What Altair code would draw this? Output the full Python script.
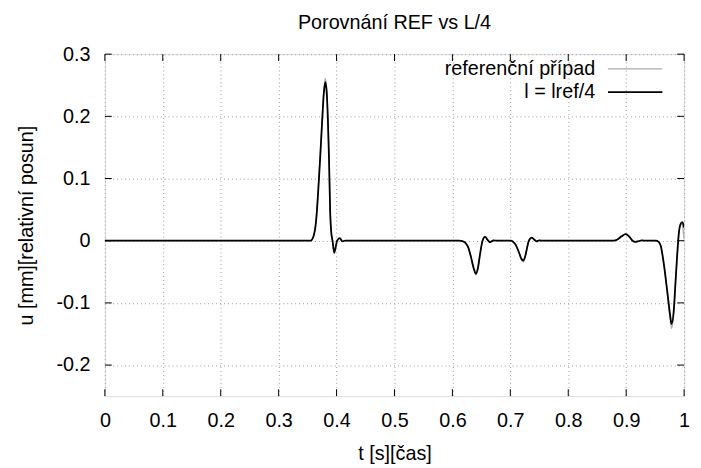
import altair as alt
import pandas as pd

# ---- data ----
t = [0.000, 0.340, 0.355, 0.3605, 0.365, 0.368, 0.3715, 0.375, 0.378, 0.3805,
     0.383, 0.385, 0.387, 0.389, 0.391, 0.393, 0.396, 0.3985, 0.401, 0.4056,
     0.410, 0.415, 0.612, 0.617, 0.622, 0.627, 0.632, 0.637, 0.6405, 0.644,
     0.648, 0.652, 0.6565, 0.661, 0.665, 0.671, 0.678, 0.700, 0.705, 0.710,
     0.715, 0.719, 0.7225, 0.726, 0.729, 0.732, 0.737, 0.741, 0.745, 0.750,
     0.756, 0.878, 0.885, 0.892, 0.899, 0.905, 0.911, 0.916, 0.922, 0.927,
     0.935, 0.951, 0.956, 0.9596, 0.9654, 0.971, 0.9766, 0.9783, 0.9824, 0.9852,
     0.988, 0.991, 0.9935, 0.9966, 0.9985, 1.000]

u_l4 = [0, 0, 0, 0.008, 0.035, 0.075, 0.13, 0.19, 0.237, 0.255,
        0.238, 0.195, 0.13, 0.045, 0.012, 0.0, -0.019, -0.01, 0.0, 0.004,
        -0.001, 0, 0, -0.0005, -0.003, -0.01, -0.026, -0.045, -0.053, -0.044,
        -0.02, 0.0, 0.006, 0.001, -0.0025, 0.0005, 0, 0, -0.002, -0.008,
        -0.019, -0.029, -0.032, -0.024, -0.011, 0.0, 0.005, 0.002, -0.001, 0.0005,
        0, 0, 0.002, 0.007, 0.0105, 0.007, 0.0, -0.002, -0.0005, 0.0005,
        0, 0, -0.002, -0.008, -0.04, -0.082, -0.125, -0.134, -0.109, -0.066,
        -0.024, 0.013, 0.026, 0.03, 0.027, 0.021]

u_ref = [0, 0, 0, 0.008, 0.036, 0.077, 0.133, 0.194, 0.242, 0.261,
         0.244, 0.2, 0.134, 0.046, 0.012, 0.0, -0.021, -0.011, 0.0, 0.004,
         -0.001, 0, 0, -0.0005, -0.003, -0.01, -0.027, -0.047, -0.055, -0.046,
         -0.021, 0.0, 0.007, 0.001, -0.0025, 0.0005, 0, 0, -0.002, -0.008,
         -0.02, -0.03, -0.034, -0.025, -0.011, 0.0, 0.005, 0.002, -0.001, 0.0005,
         0, 0, 0.002, 0.007, 0.011, 0.007, 0.0, -0.002, -0.0005, 0.0005,
         0, 0, -0.002, -0.008, -0.041, -0.085, -0.131, -0.141, -0.114, -0.068,
         -0.025, 0.012, 0.024, 0.027, 0.015, 0.002]

x_ticks = [0, 0.1, 0.2, 0.3, 0.4, 0.5, 0.6, 0.7, 0.8, 0.9, 1.0]
y_ticks = [-0.2, -0.1, 0, 0.1, 0.2, 0.3]
series = ["referenční případ", "l = lref/4"]
colors = ["#ababab", "#000000"]

title_text = "Porovnání REF vs L/4"
x_title = "t [s][čas]"
y_title = "u [mm][relativní posun]"

# ---- layout ----
W, H = 586, 346
FONT = "Liberation Sans"
FS = 20

df = pd.DataFrame({"t": t, "ref": u_ref, "l4": u_l4})
xt_df = pd.DataFrame({"v": x_ticks})
yt_df = pd.DataFrame({"v": y_ticks})

xscale = alt.Scale(domain=[0, 1], nice=False, zero=False)
yscale = alt.Scale(domain=[-0.25, 0.3], nice=False, zero=False)

xaxis = alt.Axis(values=x_ticks, grid=True, gridDash=[1, 3], gridColor="#9a9a9a",
                 domain=False, ticks=False, labelPadding=15,
                 labelExpr="toString(round(datum.value*10)/10)",
                 labelFont=FONT, labelFontSize=FS, labelColor="#000",
                 titleFont=FONT, titleFontSize=FS, titleFontWeight="normal",
                 titleColor="#000", titlePadding=13, labelFlush=False)
yaxis = alt.Axis(values=y_ticks, grid=True, gridDash=[1, 3], gridColor="#9a9a9a",
                 domain=False, ticks=False, labelPadding=15,
                 labelExpr="toString(round(datum.value*10)/10)",
                 labelFont=FONT, labelFontSize=FS, labelColor="#000",
                 titleFont=FONT, titleFontSize=FS, titleFontWeight="normal",
                 titleColor="#000", titlePadding=20, labelFlush=False)


def X(field):
    return alt.X(field, type="quantitative", scale=xscale, axis=xaxis, title=x_title)


def Y(field):
    return alt.Y(field, type="quantitative", scale=yscale, axis=yaxis, title=y_title)


line_ref = alt.Chart(df).mark_line(color=colors[0], strokeWidth=1.3,
                                   interpolate="monotone", clip=True).encode(
    x=X("t"), y=Y("ref"))
line_l4 = alt.Chart(df).mark_line(color=colors[1], strokeWidth=1.8,
                                  interpolate="monotone", clip=True).encode(
    x=X("t"), y=Y("l4"))

TK = 7
xt_bottom = alt.Chart(xt_df).mark_rule(color="#000").encode(
    x=X("v"), y=alt.value(H), y2=alt.value(H - TK))
xt_top = alt.Chart(xt_df).mark_rule(color="#000").encode(
    x=X("v"), y=alt.value(0), y2=alt.value(TK))
yt_left = alt.Chart(yt_df).mark_rule(color="#000").encode(
    y=Y("v"), x=alt.value(0), x2=alt.value(TK))
yt_right = alt.Chart(yt_df).mark_rule(color="#000").encode(
    y=Y("v"), x=alt.value(W), x2=alt.value(W - TK))

legend_layers = []
row_y = [15, 38.5]
widths = [1.3, 1.8]
for i, name in enumerate(series):
    ldf = pd.DataFrame({"label": [name]})
    legend_layers.append(
        alt.Chart(ldf).mark_text(align="right", baseline="middle", font=FONT,
                                 fontSize=FS, color="#000").encode(
            x=alt.value(496), y=alt.value(row_y[i]), text="label:N"))
    legend_layers.append(
        alt.Chart(ldf).mark_rule(color=colors[i], strokeWidth=widths[i]).encode(
            x=alt.value(509), x2=alt.value(564), y=alt.value(row_y[i])))

chart = alt.layer(
    line_ref, line_l4, xt_bottom, xt_top, yt_left, yt_right, *legend_layers
).properties(
    width=W, height=H,
    title=alt.TitleParams(title_text, font=FONT, fontSize=FS, fontWeight="normal",
                          color="#000", anchor="middle", offset=11),
    autosize=alt.AutoSizeParams(type="none"),
    padding={"left": 98, "top": 44, "right": 9, "bottom": 70},
).configure_view(
    stroke="#222", strokeWidth=1
).configure(background="white")

chart.save("out.html", embed_options={"renderer": "svg", "actions": False})
